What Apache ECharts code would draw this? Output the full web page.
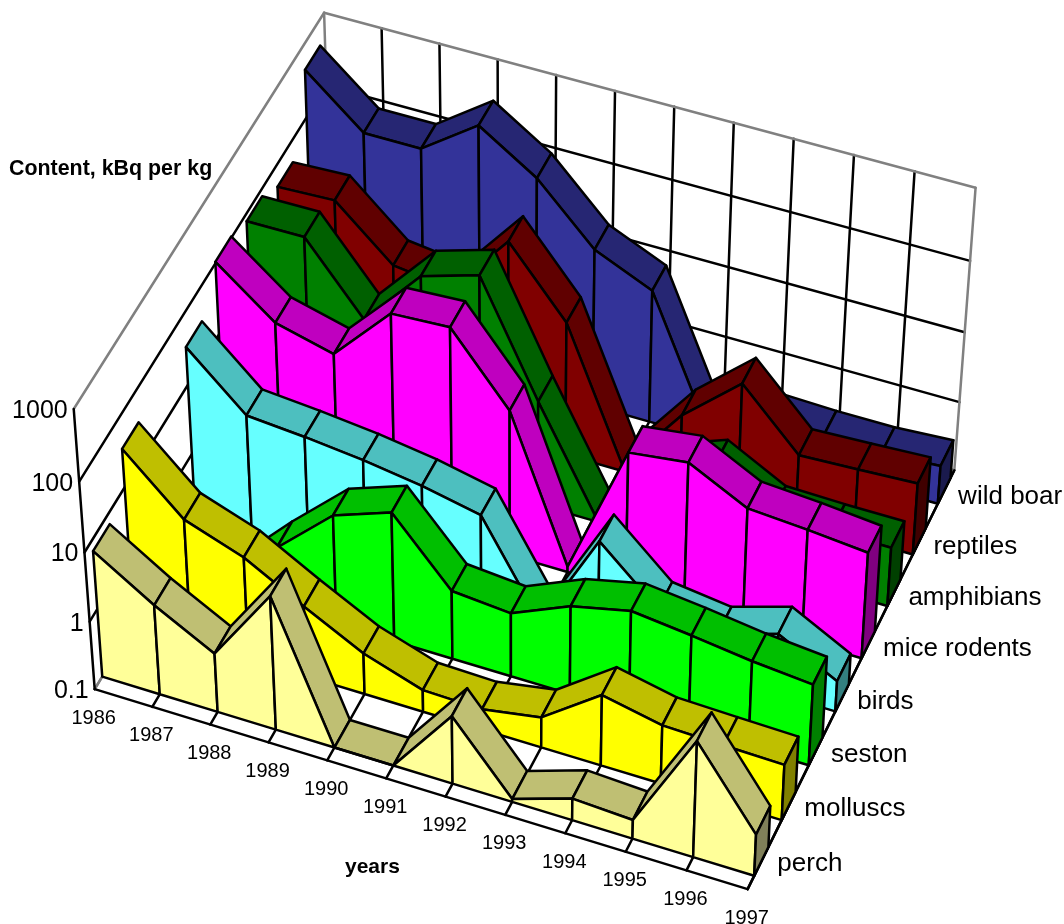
<!DOCTYPE html>
<html>
<head>
<meta charset="utf-8">
<title>Radionuclide content by species</title>
<script src="https://cdn.jsdelivr.net/npm/echarts@6/dist/echarts.min.js"></script>
<style>html,body{margin:0;padding:0;background:#fff}#chart{width:1064px;height:924px}</style>
</head>
<body>
<div id="chart"></div>
<script>
// Category and tick labels
const years = ['1986','1987','1988','1989','1990','1991','1992','1993','1994','1995','1996','1997'];
const speciesNames = ['perch','molluscs','seston','birds','mice rodents','amphibians','reptiles','wild boar'];
const contentTicks = [0.1, 1, 10, 100, 1000];

// Content in kBq per kg, one value per year
const perch      = [6.9, 2.05, 0.73, 9.0, 0.1, 0.1, 1.0, 0.11, 0.21, 0.19, 5.1, 0.41];
const molluscs   = [35, 6.1, 3.1, 1.08, 0.4, 0.21, 0.2, 0.28, 1.1, 0.73, 0.69, 0.66];
const seston     = [0.1, 0.12, 0.74, 3.9, 7.6, 1.0, 0.85, 1.95, 3.0, 2.4, 1.85, 1.55];
const birds      = [34, 6.3, 5.4, 4.4, 3.3, 2.2, 0.11, 2.9, 0.54, 0.42, 0.76, 0.28];
const miceRodents= [105, 25, 15.5, 98, 108, 12.6, 0.12, 9.7, 12.3, 4.8, 4.2, 3.5];
const amphibians = [79, 80, 9.4, 65, 113, 3.2, 0.12, 1.0, 2.0, 0.75, 0.72, 0.72];
const reptiles   = [50, 54, 11, 8.7, 68, 8.3, 0.12, 1.15, 5.7, 0.92, 1.0, 1.1];
const wildBoar   = [450, 100, 100, 345, 107, 18, 8.0, 0.14, 0.34, 0.32, 0.32, 0.36];
const speciesValues = [perch, molluscs, seston, birds, miceRodents, amphibians, reptiles, wildBoar];

// Face colours per species: front, top (darker), end cap (darkest)
const frontColors = ['#FFFF99','#FFFF00','#00FF00','#66FFFF','#FF00FF','#008000','#800000','#333399'];
const topColors   = ['#BFBF73','#BFBF00','#00BF00','#4DBFBF','#BF00BF','#006000','#600000','#262673'];
const capColors   = ['#808059','#808000','#008000','#338080','#800080','#004000','#400000','#1A1A4D'];

// Where the corners of the plot box land on the page; the camera is fitted to these.
// Each row: year fraction, content fraction, depth fraction, page x, page y.
const boxAnchors = [
  [0,0,0,95,689],[0,.25,0,90,622],[0,.75,0,79,480],[0,1,0,73,410],
  [0,1,1,325,12],[0,.75,1,327,86],[0,0,1,331,296],
  [6/11,1,1,674,106],[1,1,1,975,188],[1,.75,1,970,262],[1,.5,1,965,333],[1,0,1,955,468],
  [5/11,0,0,387,778],[1,0,0,747,890]
];

function fitCamera(rows) {
  const n = 11, A = [], b = [];
  rows.forEach(([X,Y,Z,u,v]) => {
    A.push([X,Y,Z,1,0,0,0,0,-u*X,-u*Y,-u*Z]); b.push(u);
    A.push([0,0,0,0,X,Y,Z,1,-v*X,-v*Y,-v*Z]); b.push(v);
  });
  const M = [];
  for (let i = 0; i < n; i++) {
    M.push(new Array(n + 1).fill(0));
    for (let j = 0; j < n; j++) A.forEach(r => { M[i][j] += r[i] * r[j]; });
    A.forEach((r, k) => { M[i][n] += r[i] * b[k]; });
  }
  for (let c = 0; c < n; c++) {
    let best = c;
    for (let r = c + 1; r < n; r++) if (Math.abs(M[r][c]) > Math.abs(M[best][c])) best = r;
    [M[c], M[best]] = [M[best], M[c]];
    for (let r = 0; r < n; r++) {
      if (r === c) continue;
      const f = M[r][c] / M[c][c];
      for (let j = c; j <= n; j++) M[r][j] -= f * M[c][j];
    }
  }
  return M.map((row, i) => row[n] / row[i]);
}
const cam = fitCamera(boxAnchors);

// Box position (year fraction, content fraction, depth fraction) to axis coordinates
function project(x, y, z) {
  const w = cam[8]*x + cam[9]*y + cam[10]*z + 1;
  return [(cam[0]*x + cam[1]*y + cam[2]*z + cam[3]) / w,
          (cam[4]*x + cam[5]*y + cam[6]*z + cam[7]) / w];
}
const lastYear = years.length - 1;
const yearFrac = k => k / lastYear;
const logFrac = v => (Math.log10(v) + 1) / 4;
const bandFront = s => (s * 1.012 + 0.24) / speciesNames.length;
const bandBack  = s => (s * 1.012 + 0.76) / speciesNames.length;

const FONT = '"Liberation Sans", Arial, sans-serif';
const GRID = '#000000', EDGE = '#808080';
const STROKE = 2.5;

function lineEl(api, a, b, color, z2) {
  const p = api.coord(project(a[0], a[1], a[2]));
  const q = api.coord(project(b[0], b[1], b[2]));
  return { type: 'line', z2: z2 || 0, silent: true,
    shape: { x1: p[0], y1: p[1], x2: q[0], y2: q[1] },
    style: { stroke: color, lineWidth: STROKE, lineCap: 'round' } };
}
function faceEl(api, corners, fill, z2) {
  return { type: 'polygon', z2, silent: true,
    shape: { points: corners.map(c => api.coord(project(c[0], c[1], c[2]))) },
    style: { fill, stroke: '#000000', lineWidth: STROKE, lineJoin: 'round' } };
}

// Walls, floor grid and the front axes
function renderFrame(params, api) {
  const kids = [];
  for (let k = 0; k <= lastYear; k++) {
    const x = yearFrac(k), edge = k === 0 || k === lastYear;
    kids.push(lineEl(api, [x,0,1], [x,1,1], edge ? EDGE : GRID, edge ? 1 : 0));
    kids.push(lineEl(api, [x,0,0], [x,0,1], k === 0 ? EDGE : GRID, k === 0 ? 1 : 0));
  }
  contentTicks.forEach(t => {
    const y = logFrac(t), edge = t === 1000 || t === 0.1;
    kids.push(lineEl(api, [0,y,0], [0,y,1], edge ? EDGE : GRID, edge ? 1 : 0));
    kids.push(lineEl(api, [0,y,1], [1,y,1], edge ? EDGE : GRID, edge ? 1 : 0));
  });
  kids.push(lineEl(api, [0,0,0], [0,1,0], GRID, 2));
  kids.push(lineEl(api, [0,0,0], [1,0,0], GRID, 2));
  kids.push(lineEl(api, [1,0,0], [1,0,1], GRID, 2));
  return { type: 'group', children: kids };
}

// One ribbon segment per year, with the end cap on the last year
function ribbonRenderer(s) {
  const values = speciesValues[s];
  const zF = bandFront(s), zB = bandBack(s);
  return function (params, api) {
    const k = params.dataIndex, x0 = yearFrac(k), y0 = logFrac(values[k]);
    const kids = [];
    if (k < lastYear) {
      const x1 = yearFrac(k + 1), y1 = logFrac(values[k + 1]);
      kids.push(faceEl(api, [[x0,y0,zF],[x1,y1,zF],[x1,y1,zB],[x0,y0,zB]], topColors[s], k * 2));
      kids.push(faceEl(api, [[x0,0,zF],[x1,0,zF],[x1,y1,zF],[x0,y0,zF]], frontColors[s], k * 2 + 1));
    } else {
      kids.push(faceEl(api, [[x0,0,zF],[x0,y0,zF],[x0,y0,zB],[x0,0,zB]], capColors[s], k * 2));
    }
    return { type: 'group', children: kids };
  };
}

// Tick labels placed from the same projection as the axes
function textEl(p, text, size, align) {
  return { type: 'text', silent: true,
    style: { x: p[0], y: p[1], text, fill: '#000000', font: size + 'px ' + FONT,
             align, verticalAlign: 'middle' } };
}
function renderLabels(params, api) {
  const kids = [];
  years.forEach((t, k) => {
    const p = api.coord(project(yearFrac(k), 0, 0));
    kids.push(textEl([p[0] - 1, p[1] + 29], t, 20, 'center'));
  });
  contentTicks.forEach(t => {
    const p = api.coord(project(0, logFrac(t), 0));
    kids.push(textEl([p[0] - 6, p[1] + 2], String(t), 25, 'right'));
  });
  speciesNames.forEach((t, s) => {
    const p = api.coord(project(1, 0, (s + 0.5) / speciesNames.length));
    kids.push(textEl([p[0] + 16, p[1] + 2], t, 26, 'left'));
  });
  return { type: 'group', children: kids };
}

const series = [{
  name: 'frame', type: 'custom', coordinateSystem: 'cartesian2d', clip: false, silent: true,
  z: 1, data: [[0, 0]], renderItem: renderFrame
}];
for (let s = speciesNames.length - 1; s >= 0; s--) {
  series.push({
    name: speciesNames[s], type: 'custom', coordinateSystem: 'cartesian2d', clip: false, silent: true,
    z: 10 + (speciesNames.length - s),
    data: speciesValues[s].map((v, k) => [k, v]),
    renderItem: ribbonRenderer(s)
  });
}
series.push({
  name: 'labels', type: 'custom', coordinateSystem: 'cartesian2d', clip: false, silent: true,
  z: 50, data: [[0, 0]], renderItem: renderLabels
});

const chart = echarts.init(document.getElementById('chart'), null, { renderer: 'canvas' });
chart.setOption({
  animation: false,
  backgroundColor: '#ffffff',
  grid: { left: 0, right: 0, top: 0, bottom: 0 },
  xAxis: { type: 'value', min: 0, max: 1064, show: false },
  yAxis: { type: 'value', min: 0, max: 924, inverse: true, show: false },
  graphic: [
    { type: 'text', left: 9, top: 159, silent: true,
      style: { text: 'Content, kBq per kg', font: 'bold 21.4px ' + FONT, fill: '#000000' } },
    { type: 'text', left: 345, top: 857, silent: true,
      style: { text: 'years', font: 'bold 21px ' + FONT, fill: '#000000' } }
  ],
  series
});
</script>
</body>
</html>
